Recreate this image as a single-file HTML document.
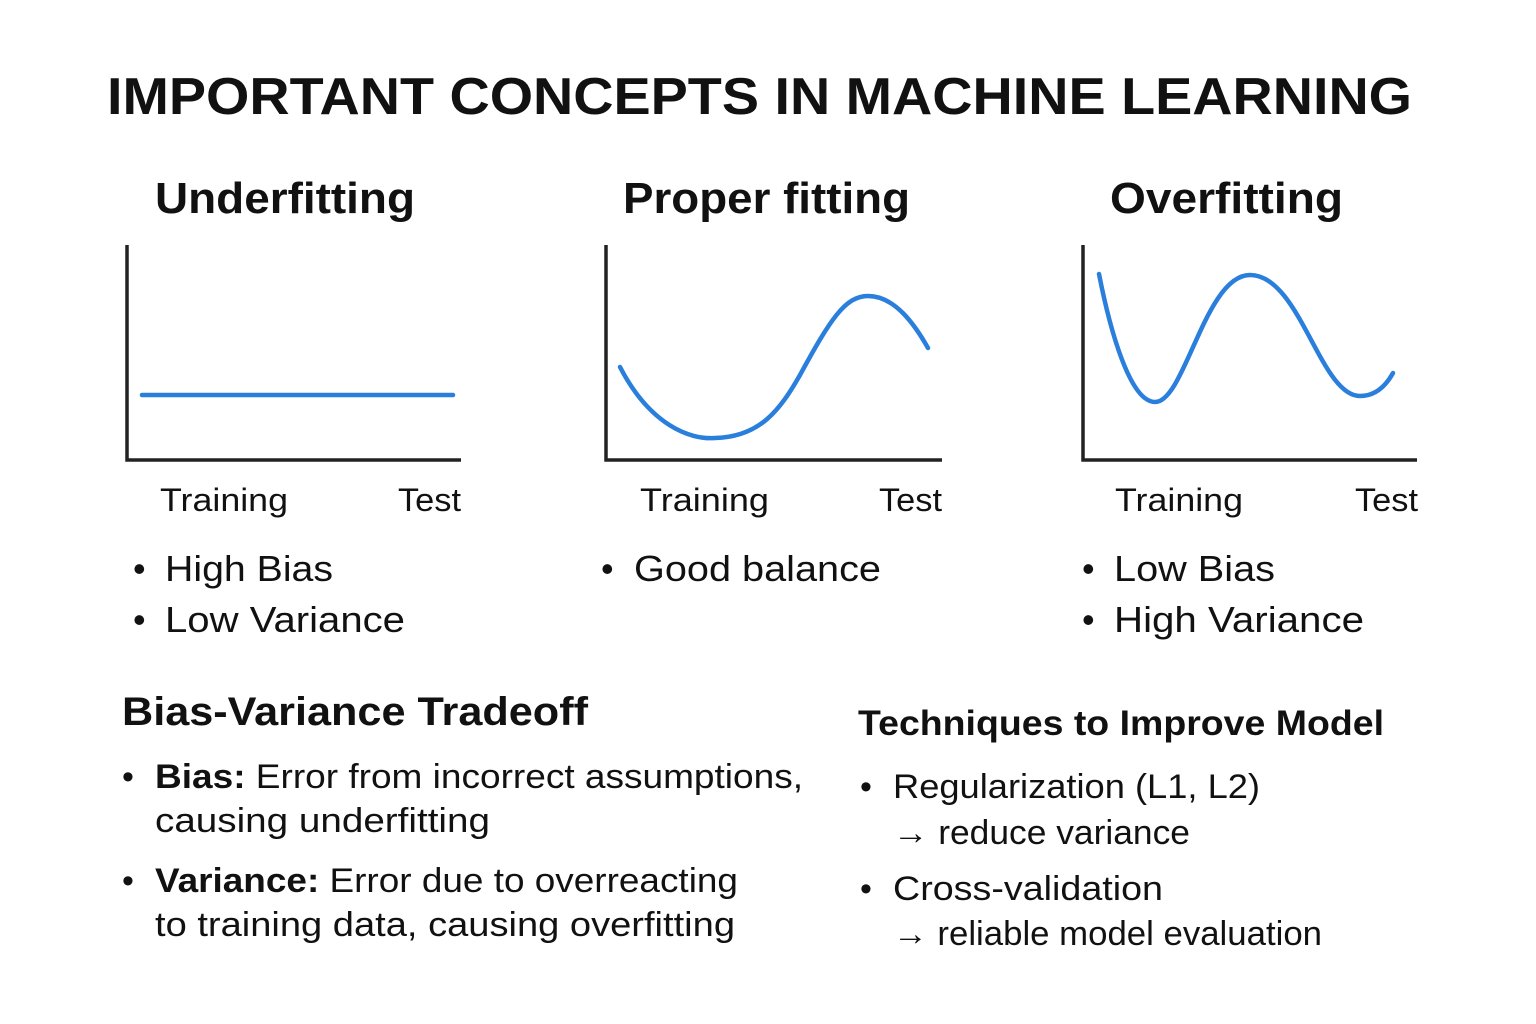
<!DOCTYPE html>
<html><head><meta charset="utf-8"><style>
html,body{margin:0;padding:0;background:#fff;}
svg{display:block;}
text{font-family:"Liberation Sans","DejaVu Sans",sans-serif;fill:#111;}
.b{font-weight:bold;}
</style></head><body>
<svg width="1536" height="1024" viewBox="0 0 1536 1024">
<text class="b" x="107" y="114" font-size="52" textLength="1305" lengthAdjust="spacingAndGlyphs">IMPORTANT CONCEPTS IN MACHINE LEARNING</text>

<text class="b" x="155" y="213" font-size="44" textLength="260" lengthAdjust="spacingAndGlyphs">Underfitting</text>
<text class="b" x="623" y="213" font-size="44" textLength="287" lengthAdjust="spacingAndGlyphs">Proper fitting</text>
<text class="b" x="1110" y="213" font-size="44" textLength="233" lengthAdjust="spacingAndGlyphs">Overfitting</text>

<g stroke="#222" stroke-width="3.5" fill="none">
<path d="M127 245 V460 H461"/>
<path d="M606 245 V460 H942"/>
<path d="M1083 245 V460 H1417"/>
</g>
<g stroke="#2a7fdc" stroke-width="4.5" fill="none" stroke-linecap="round">
<path d="M142 395 H453"/>
<path d="M620 367 C650 425 690 440 715 438 C760 437 780 410 800 375 C830 320 845 296 868 296 C895 296 915 325 928 348"/>
<path d="M1099 274 C1110 330 1130 402 1155 402 C1185 402 1205 275 1250 275 C1300 275 1320 396 1360 396 C1378 396 1388 382 1393 373"/>
</g>

<g font-size="32">
<text x="160" y="511" textLength="128" lengthAdjust="spacingAndGlyphs">Training</text>
<text x="398" y="511" textLength="63" lengthAdjust="spacingAndGlyphs">Test</text>
<text x="640" y="511" textLength="129" lengthAdjust="spacingAndGlyphs">Training</text>
<text x="879" y="511" textLength="63" lengthAdjust="spacingAndGlyphs">Test</text>
<text x="1115" y="511" textLength="128" lengthAdjust="spacingAndGlyphs">Training</text>
<text x="1355" y="511" textLength="63" lengthAdjust="spacingAndGlyphs">Test</text>
</g>

<g font-size="36">
<text x="133" y="581">•</text>
<text x="165" y="581" textLength="168" lengthAdjust="spacingAndGlyphs">High Bias</text>
<text x="133" y="632">•</text>
<text x="165" y="632" textLength="240" lengthAdjust="spacingAndGlyphs">Low Variance</text>
<text x="601" y="581">•</text>
<text x="634" y="581" textLength="247" lengthAdjust="spacingAndGlyphs">Good balance</text>
<text x="1082" y="581">•</text>
<text x="1114" y="581" textLength="161" lengthAdjust="spacingAndGlyphs">Low Bias</text>
<text x="1082" y="632">•</text>
<text x="1114" y="632" textLength="250" lengthAdjust="spacingAndGlyphs">High Variance</text>
</g>

<text class="b" x="122" y="725" font-size="40" textLength="466" lengthAdjust="spacingAndGlyphs">Bias-Variance Tradeoff</text>
<g font-size="34">
<text x="122" y="788">•</text>
<text x="155" y="788" textLength="648" lengthAdjust="spacingAndGlyphs"><tspan class="b">Bias:</tspan> Error from incorrect assumptions,</text>
<text x="155" y="832" textLength="335" lengthAdjust="spacingAndGlyphs">causing underfitting</text>
<text x="122" y="892">•</text>
<text x="155" y="892" textLength="583" lengthAdjust="spacingAndGlyphs"><tspan class="b">Variance:</tspan> Error due to overreacting</text>
<text x="155" y="936" textLength="580" lengthAdjust="spacingAndGlyphs">to training data, causing overfitting</text>
</g>

<text class="b" x="858" y="735" font-size="35" textLength="526" lengthAdjust="spacingAndGlyphs">Techniques to Improve Model</text>
<g font-size="34">
<text x="860" y="798">•</text>
<text x="893" y="798" textLength="367" lengthAdjust="spacingAndGlyphs">Regularization (L1, L2)</text>
<text x="893" y="844" textLength="297" lengthAdjust="spacingAndGlyphs">→ reduce variance</text>
<text x="860" y="900">•</text>
<text x="893" y="900" textLength="270" lengthAdjust="spacingAndGlyphs">Cross-validation</text>
<text x="893" y="945" textLength="429" lengthAdjust="spacingAndGlyphs">→ reliable model evaluation</text>
</g>
</svg>
</body></html>
